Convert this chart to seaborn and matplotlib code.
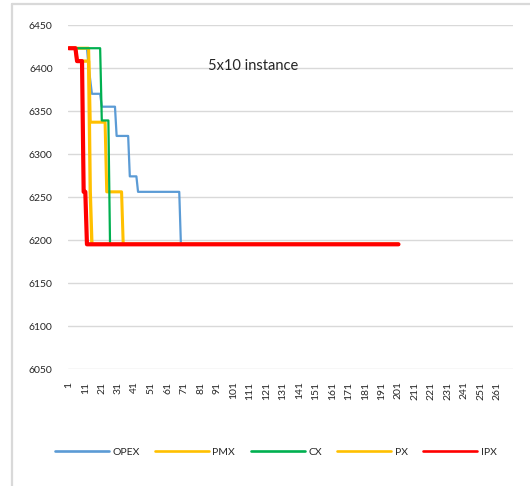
import numpy as np
import pandas as pd
import matplotlib
matplotlib.use('Agg')
import matplotlib.pyplot as plt
from matplotlib.lines import Line2D
import seaborn as sns

# Valores (niveles y número de iteraciones en cada nivel)
opex_levels = [6423, 6402, 6386, 6370, 6355, 6321, 6274, 6256, 6195]
opex_runs = [12, 1, 1, 6, 9, 8, 5, 26, 133]
pmx_levels = [6423, 6337, 6256, 6195]
pmx_runs = [13, 10, 10, 168]
cx_levels = [6423, 6339, 6195]
cx_runs = [20, 5, 176]
px_levels = [6423, 6408, 6256, 6195]
px_runs = [5, 8, 1, 187]
ipx_levels = [6423, 6408, 6256, 6195]
ipx_runs = [5, 4, 2, 190]

n_categories = 270
tick_step = 10
y_ticks = [6050, 6100, 6150, 6200, 6250, 6300, 6350, 6400, 6450]
title = '5x10 instance'
legend_names = ['OPEX', 'PMX', 'CX', 'PX', 'IPX']

colors = ['#5B9BD5', '#FFC000', '#00B050', '#FFC000', '#FF0000']
widths = [1.6, 2.2, 1.6, 2.4, 3.0]
all_levels = [opex_levels, pmx_levels, cx_levels, px_levels, ipx_levels]
all_runs = [opex_runs, pmx_runs, cx_runs, px_runs, ipx_runs]

sns.set_style('white')
plt.rcParams['font.family'] = ['Lato', 'DejaVu Sans']

fig = plt.figure(figsize=(5.30, 4.86), dpi=100)
ax = fig.add_axes([68 / 530, 1 - 369 / 486, 445 / 530, 344 / 486])

for levels, runs, color, lw in zip(all_levels, all_runs, colors, widths):
    values = np.repeat(levels, runs)
    df = pd.DataFrame({'iter': np.arange(1, len(values) + 1), 'value': values})
    sns.lineplot(data=df, x='iter', y='value', ax=ax, color=color,
                 linewidth=lw, legend=False)

ax.set_xlim(0.5, n_categories + 0.5)
ax.set_ylim(y_ticks[0], y_ticks[-1])
ax.set_yticks(y_ticks)
ax.set_yticklabels([str(v) for v in y_ticks], fontsize=7.5)
xt = np.arange(1, n_categories + 1, tick_step)
ax.set_xticks(xt)
ax.set_xticklabels([str(v) for v in xt], rotation=90, fontsize=7.5)
ax.set_xlabel('')
ax.set_ylabel('')
ax.grid(axis='y', color='#D9D9D9', linewidth=1.0)
ax.grid(axis='x', visible=False)
ax.tick_params(axis='both', length=0)
ax.tick_params(axis='y', pad=11)
ax.tick_params(axis='x', pad=9)
for s in ax.spines.values():
    s.set_visible(False)

ax.text(0.415, 0.88, title, transform=ax.transAxes, ha='center', va='center',
        fontsize=10.5)

# Leyenda: todas las líneas con el mismo grosor
handles = [Line2D([0, 1], [0, 0], color=c, linewidth=1.9) for c in colors]
fig.legend(handles=handles, labels=legend_names, loc='center',
           bbox_to_anchor=(0.52, 0.07), ncol=5, frameon=False, fontsize=7.5,
           handlelength=5.2, handletextpad=0.3, columnspacing=1.5)

# Marco gris del gráfico
fx = 12 / 530
fy = 1 - 4 / 486
fig.add_artist(Line2D([fx, fx], [0, fy], color='#D9D9D9', linewidth=1.6))
fig.add_artist(Line2D([fx, 1], [fy, fy], color='#D9D9D9', linewidth=1.6))

fig.savefig('out.png', dpi=100)
